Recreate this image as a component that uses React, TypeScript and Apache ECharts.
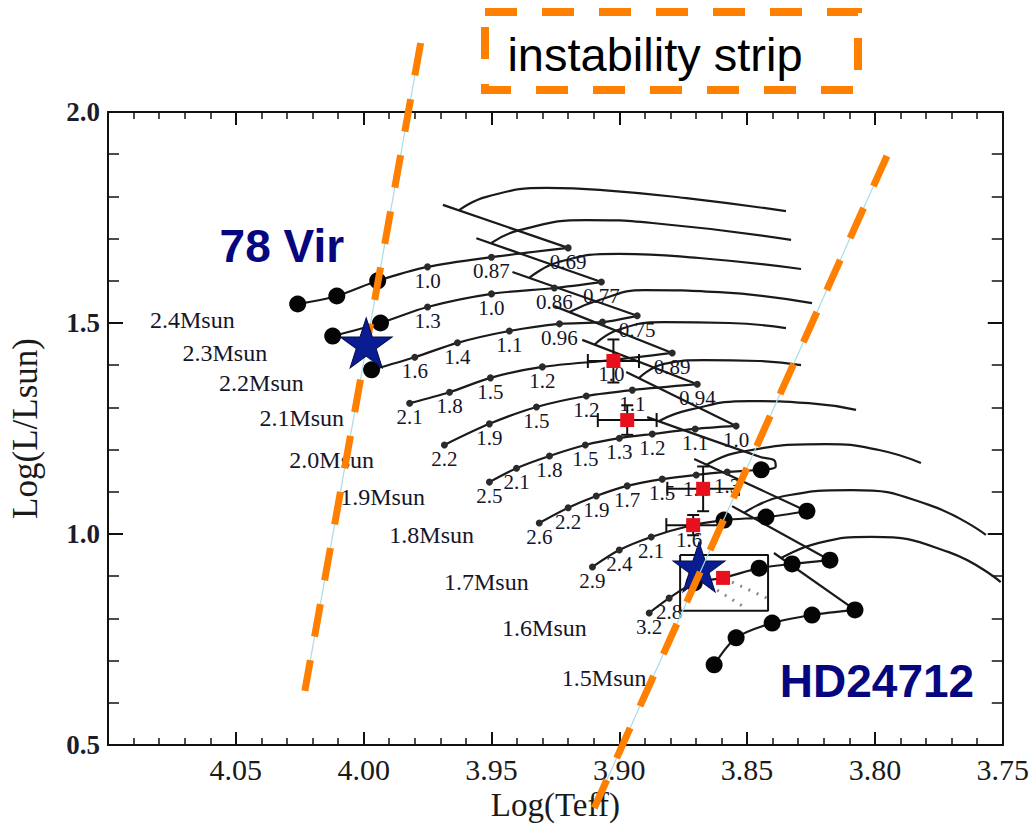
import React, { useEffect, useRef } from "react";
import * as echarts from "echarts";

// ---- Evolutionary tracks [logTeff, logL] ----
const ms24 = [[4.0258, 1.545], [4.0105, 1.564], [3.9945, 1.6], [3.975, 1.633], [3.95, 1.656], [3.92, 1.678]];
const dots24 = ["B", "B", "B", "S", "S", "S"];
const ages24 = ["", "", "", "1.0", "0.87", "0.69"];
const hook24 = [[3.92, 1.678], [3.969, 1.78]];
const arch24 = [[3.9625, 1.768], [3.952, 1.799], [3.9285, 1.82], [3.9066, 1.815], [3.8738, 1.796], [3.8348, 1.765]];

const ms23 = [[4.0121, 1.469], [3.9934, 1.5], [3.975, 1.538], [3.95, 1.569], [3.9254, 1.583], [3.907, 1.597]];
const dots23 = ["B", "B", "S", "S", "S", "S"];
const ages23 = ["", "", "1.3", "1.0", "0.86", "0.77"];
const hook23 = [[3.907, 1.597], [3.9559, 1.701]];
const arch23 = [[3.95, 1.69], [3.939, 1.72], [3.9129, 1.744], [3.8871, 1.737], [3.8328, 1.697]];

const ms22 = [[3.9969, 1.389], [3.98, 1.419], [3.9633, 1.453], [3.943, 1.481], [3.9234, 1.498], [3.9066, 1.502], [3.893, 1.517]];
const dots22 = ["B", "S", "S", "S", "S", "S", "S"];
const ages22 = ["", "1.6", "1.4", "1.1", "0.96", "", "0.75"];
const hook22 = [[3.893, 1.517], [3.9418, 1.621]];
const arch22 = [[3.9352, 1.607], [3.9234, 1.645], [3.9, 1.664], [3.8688, 1.654], [3.8289, 1.628]];

const ms21 = [[3.982, 1.31], [3.9664, 1.336], [3.9504, 1.37], [3.9301, 1.396], [3.9031, 1.412], [3.8793, 1.429]];
const dots21 = ["S", "S", "S", "S", "S", "S"];
const ages21 = ["2.1", "1.8", "1.5", "1.2", "1.0", "0.89"];
const hook21 = [[3.8793, 1.429], [3.9254, 1.54]];
const arch21 = [[3.9195, 1.526], [3.9078, 1.5545], [3.8902, 1.578], [3.8609, 1.573], [3.8246, 1.547]];

const ms20 = [[3.9684, 1.211], [3.9508, 1.261], [3.9324, 1.301], [3.9129, 1.327], [3.8949, 1.341], [3.8695, 1.355]];
const dots20 = ["S", "S", "S", "S", "S", "S"];
const ages20 = ["2.2", "1.9", "1.5", "1.2", "1.1", "0.94"];
const hook20 = [[3.8695, 1.355], [3.9145, 1.46]];
const arch20 = [[3.9098, 1.448], [3.9008, 1.483], [3.8824, 1.502], [3.857, 1.5], [3.8348, 1.488]];

const ms19 = [[3.9508, 1.123], [3.9402, 1.156], [3.9273, 1.185], [3.9133, 1.211], [3.9, 1.227], [3.8871, 1.237], [3.8703, 1.249], [3.8543, 1.256]];
const dots19 = ["S", "S", "S", "S", "S", "S", "S", "S"];
const ages19 = ["2.5", "2.1", "1.8", "1.5", "1.3", "1.2", "1.1", "1.0"];
const hook19 = [[3.8543, 1.256], [3.8973, 1.384]];
const arch19 = [[3.8922, 1.37], [3.8824, 1.403], [3.8668, 1.412], [3.8453, 1.41], [3.8289, 1.4]];

const ms18 = [[3.9313, 1.026], [3.92, 1.062], [3.909, 1.09], [3.8969, 1.114], [3.8832, 1.13], [3.8699, 1.14], [3.8578, 1.147], [3.8445, 1.152]];
const dots18 = ["S", "S", "S", "S", "S", "S", "S", "B"];
const ages18 = ["2.6", "2.2", "1.9", "1.7", "1.5", "1.4", "1.3", ""];
const hook18 = [[3.8445, 1.152], [3.8388, 1.16], [3.8393, 1.174], [3.8445, 1.182], [3.8891, 1.277]];
const arch18 = [[3.8844, 1.268], [3.8727, 1.294], [3.8492, 1.315], [3.8258, 1.31], [3.8074, 1.294]];

const ms17 = [[3.9105, 0.922], [3.9, 0.962], [3.8875, 0.993], [3.8727, 1.019], [3.859, 1.033], [3.8426, 1.04], [3.8266, 1.054]];
const dots17 = ["S", "S", "S", "S", "B", "B", "B"];
const ages17 = ["2.9", "2.4", "2.1", "1.6", "", "", ""];
const hook17 = [[3.8266, 1.054], [3.8707, 1.178]];
const arch17 = [[3.866, 1.1635], [3.8531, 1.194], [3.8191, 1.213], [3.7984, 1.199], [3.782, 1.168]];

const ms16 = [[3.8883, 0.813], [3.8805, 0.848], [3.8707, 0.884], [3.8594, 0.896], [3.8453, 0.919], [3.8324, 0.929], [3.8176, 0.938]];
const dots16 = ["S", "S", "B", "", "B", "B", "B"];
const ages16 = ["3.2", "2.8", "", "", "", "", ""];
const hook16 = [[3.8176, 0.938], [3.8559, 1.066]];
const arch16 = [[3.8512, 1.05], [3.8355, 1.09], [3.809, 1.104], [3.7789, 1.069], [3.7566, 0.998]];

const ms15 = [[3.8629, 0.69], [3.8543, 0.754], [3.8402, 0.789], [3.8246, 0.808], [3.8078, 0.82]];
const dots15 = ["B", "B", "B", "B", "B"];
const ages15 = ["", "", "", "", ""];
const hook15 = [[3.8078, 0.82], [3.8395, 0.955]];
const arch15 = [[3.8367, 0.943], [3.8219, 0.979], [3.8012, 0.993], [3.7711, 0.957], [3.7508, 0.886]];

// mass labels [logTeff, logL, text]
const massLabels = [
  [4.067, 1.507, "2.4Msun"],
  [4.0543, 1.429, "2.3Msun"],
  [4.04, 1.358, "2.2Msun"],
  [4.0242, 1.275, "2.1Msun"],
  [4.0125, 1.175, "2.0Msun"],
  [3.9926, 1.088, "1.9Msun"],
  [3.9734, 0.998, "1.8Msun"],
  [3.952, 0.886, "1.7Msun"],
  [3.9293, 0.777, "1.6Msun"],
  [3.9059, 0.659, "1.5Msun"],
];

// observations
const obsTeff = [3.9023, 3.8969, 3.8672, 3.8711, 3.8594];
const obsLum = [1.41, 1.27, 1.107, 1.021, 0.896];
const obsTeffErr = [0.01, 0.0115, 0.014, 0.0105, 0];
const obsLumErr = [0.051, 0.035, 0.053, 0.024, 0];

// stars
const starNames = ["78 Vir", "HD24712"];
const starTeff = [3.999, 3.8688];
const starLum = [1.453, 0.922];
const starNameTeff = [4.032, 3.7992];
const starNameLum = [1.6825, 0.6517];

// box and dotted lines
const boxTeff = [3.8762, 3.8418];
const boxLum = [0.818, 0.95];
const dottedA = [[3.8559, 0.886], [3.8422, 0.848]];
const dottedB = [[3.8617, 0.867], [3.8512, 0.827]];

// instability strip edges
const stripLeft = [[3.9777, 2.1635], [4.023, 0.628]];
const stripRight = [[3.7953, 1.8957], [3.9098, 0.3507]];

const tracks = [
  { ms: ms24, dots: dots24, ages: ages24, hook: hook24, arch: arch24 },
  { ms: ms23, dots: dots23, ages: ages23, hook: hook23, arch: arch23 },
  { ms: ms22, dots: dots22, ages: ages22, hook: hook22, arch: arch22 },
  { ms: ms21, dots: dots21, ages: ages21, hook: hook21, arch: arch21 },
  { ms: ms20, dots: dots20, ages: ages20, hook: hook20, arch: arch20 },
  { ms: ms19, dots: dots19, ages: ages19, hook: hook19, arch: arch19 },
  { ms: ms18, dots: dots18, ages: ages18, hook: hook18, arch: arch18 },
  { ms: ms17, dots: dots17, ages: ages17, hook: hook17, arch: arch17 },
  { ms: ms16, dots: dots16, ages: ages16, hook: hook16, arch: arch16 },
  { ms: ms15, dots: dots15, ages: ages15, hook: hook15, arch: arch15 },
];

const SERIF = "Liberation Serif, Times New Roman, serif";
const SANS = "Liberation Sans, Arial, sans-serif";
const STAR = "path://M50,0 L61.23,34.55 L97.55,34.55 L68.17,55.9 L79.39,90.45 L50,69.1 L20.61,90.45 L31.83,55.9 L2.45,34.55 L38.77,34.55 Z";
const ORANGE = "#ff7f00";
const TXT = "#15152a";

function lineSeries(data: number[][], smooth: number, extra: any = {}) {
  return {
    type: "line",
    data,
    smooth,
    symbol: "none",
    showSymbol: false,
    clip: false,
    silent: true,
    lineStyle: { color: "#1a1a1a", width: 2.2, opacity: 1 },
    z: 2,
    ...extra,
  };
}

function buildOption() {
  const series: any[] = [];
  const bigDots: number[][] = [];
  const smallDots: any[] = [];
  tracks.forEach((t) => {
    series.push(lineSeries(t.ms, 0.3));
    series.push(lineSeries(t.hook, 0.4));
    series.push(lineSeries(t.arch, 0.5));
    t.ms.forEach((p, i) => {
      if (t.dots[i] === "B") bigDots.push(p);
      if (t.dots[i] === "S")
        smallDots.push({
          value: p,
          label: { show: t.ages[i] !== "", formatter: t.ages[i] },
        });
    });
  });

  series.push({
    type: "scatter",
    data: bigDots,
    symbol: "circle",
    symbolSize: 17,
    itemStyle: { color: "#050505", opacity: 1 },
    silent: true,
    z: 3,
  });
  series.push({
    type: "scatter",
    data: smallDots,
    symbol: "circle",
    symbolSize: 7,
    itemStyle: { color: "#2a2a2a", opacity: 1 },
    label: {
      position: "bottom",
      distance: 0,
      fontFamily: SERIF,
      fontSize: 21,
      color: TXT,
      opacity: 1,
    },
    silent: true,
    z: 3,
  });

  // mass labels
  series.push({
    type: "scatter",
    data: massLabels.map((m) => ({ value: [m[0], m[1]], label: { formatter: m[2] } })),
    symbolSize: 1,
    itemStyle: { color: "rgba(0,0,0,0)", opacity: 1 },
    label: { show: true, position: "inside", fontFamily: SERIF, fontSize: 24, color: TXT, opacity: 1 },
    silent: true,
    z: 3,
  });

  // box
  const [b0, b1] = boxTeff;
  const [l0, l1] = boxLum;
  series.push(
    lineSeries(
      [[b0, l1], [b1, l1], [b1, l0], [b0, l0], [b0, l1]],
      0,
      { lineStyle: { color: "#111", width: 2 }, z: 4 }
    )
  );
  series.push(lineSeries(dottedA, 0, { lineStyle: { color: "#8a8a8a", width: 3, type: [2, 7] }, z: 4 }));
  series.push(lineSeries(dottedB, 0, { lineStyle: { color: "#8a8a8a", width: 3, type: [2, 7] }, z: 4 }));

  // error bars
  const errData = obsTeff
    .map((t, i) => [t, obsLum[i], obsTeffErr[i], obsLumErr[i]])
    .filter((d) => d[2] > 0 || d[3] > 0);
  series.push({
    type: "custom",
    data: errData,
    encode: { x: 0, y: 1 },
    clip: false,
    silent: true,
    z: 5,
    renderItem: (params: any, api: any) => {
      const x = api.value(0);
      const y = api.value(1);
      const ex = api.value(2);
      const ey = api.value(3);
      const L = api.coord([x + ex, y]);
      const R = api.coord([x - ex, y]);
      const T = api.coord([x, y + ey]);
      const B = api.coord([x, y - ey]);
      const st = { stroke: "#111", lineWidth: 2 };
      const cx = 7;
      const cy = 6;
      return {
        type: "group",
        children: [
          { type: "line", shape: { x1: L[0], y1: L[1], x2: R[0], y2: R[1] }, style: st },
          { type: "line", shape: { x1: T[0], y1: T[1], x2: B[0], y2: B[1] }, style: st },
          { type: "line", shape: { x1: L[0], y1: L[1] - cx, x2: L[0], y2: L[1] + cx }, style: st },
          { type: "line", shape: { x1: R[0], y1: R[1] - cx, x2: R[0], y2: R[1] + cx }, style: st },
          { type: "line", shape: { x1: T[0] - cy, y1: T[1], x2: T[0] + cy, y2: T[1] }, style: st },
          { type: "line", shape: { x1: B[0] - cy, y1: B[1], x2: B[0] + cy, y2: B[1] }, style: st },
        ],
      };
    },
  });
  series.push({
    type: "scatter",
    data: obsTeff.map((t, i) => [t, obsLum[i]]),
    symbol: "rect",
    symbolSize: 14,
    itemStyle: { color: "#e8101c", opacity: 1 },
    silent: true,
    z: 5,
  });

  // HD24712 star (below strip line)
  series.push({
    type: "scatter",
    data: [[starTeff[1], starLum[1]]],
    symbol: STAR,
    symbolSize: [52, 50],
    itemStyle: { color: "#0a1c92", borderColor: "#050d4a", borderWidth: 1, opacity: 1 },
    silent: true,
    z: 6,
  });

  // instability strip lines
  [stripLeft, stripRight].forEach((s) => {
    series.push(lineSeries(s, 0, { lineStyle: { color: "#a9dce3", width: 1.2 }, z: 6.5 }));
    series.push(
      lineSeries(s, 0, { lineStyle: { color: ORANGE, width: 7, type: [33, 24], cap: "butt" }, z: 7 })
    );
  });

  // 78 Vir star (above strip line)
  series.push({
    type: "scatter",
    data: [[starTeff[0], starLum[0]]],
    symbol: STAR,
    symbolSize: [52, 50],
    itemStyle: { color: "#0a1c92", borderColor: "#050d4a", borderWidth: 1, opacity: 1 },
    silent: true,
    z: 8,
  });

  // star names
  series.push({
    type: "scatter",
    data: starNames.map((n, i) => ({ value: [starNameTeff[i], starNameLum[i]], label: { formatter: n } })),
    symbolSize: 1,
    itemStyle: { color: "rgba(0,0,0,0)", opacity: 1 },
    label: {
      show: true,
      position: "inside",
      fontFamily: SANS,
      fontWeight: "bold",
      fontSize: 46,
      color: "#06067f",
      opacity: 1,
    },
    silent: true,
    z: 9,
  });

  const axisCommon = {
    type: "value",
    axisLine: { show: true, onZero: false, lineStyle: { color: "#111", width: 2 } },
    splitLine: { show: false },
    minorSplitLine: { show: false },
  };

  return {
    animation: false,
    backgroundColor: "#ffffff",
    textStyle: { fontFamily: SERIF },
    grid: { left: 108, right: 28, top: 112, bottom: 85 },
    xAxis: [
      {
        ...axisCommon,
        min: 3.75,
        max: 4.1,
        interval: 0.05,
        inverse: true,
        position: "bottom",
        axisTick: { show: true, inside: true, length: 13, lineStyle: { color: "#111", width: 2 } },
        minorTick: { show: true, splitNumber: 5, length: 7, lineStyle: { color: "#111", width: 1.5 } },
        axisLabel: {
          show: true,
          showMinLabel: true,
          showMaxLabel: true,
          margin: 9,
          fontFamily: SERIF,
          fontSize: 30,
          color: "#1a1a1a",
          formatter: (v: number) => (v > 4.09 ? "" : v.toFixed(2)),
        },
        name: "Log(Teff)",
        nameLocation: "middle",
        nameGap: 43,
        nameTextStyle: { fontFamily: SERIF, fontSize: 33, color: "#1a1a1a" },
      },
      {
        ...axisCommon,
        min: 3.75,
        max: 4.1,
        interval: 0.05,
        inverse: true,
        position: "top",
        axisTick: { show: true, inside: true, length: 13, lineStyle: { color: "#111", width: 2 } },
        minorTick: { show: true, splitNumber: 5, length: 7, lineStyle: { color: "#111", width: 1.5 } },
        axisLabel: { show: false },
      },
    ],
    yAxis: [
      {
        ...axisCommon,
        min: 0.5,
        max: 2.0,
        interval: 0.5,
        position: "left",
        axisTick: { show: true, inside: true, length: 15, lineStyle: { color: "#111", width: 2 } },
        minorTick: { show: true, splitNumber: 5, length: 11, lineStyle: { color: "#111", width: 1.5 } },
        axisLabel: {
          show: true,
          margin: 8,
          fontFamily: SERIF,
          fontWeight: "bold",
          fontSize: 27,
          color: "#1c1c2c",
          formatter: (v: number) => v.toFixed(1),
        },
        name: "Log(L/Lsun)",
        nameLocation: "middle",
        nameGap: 65,
        nameTextStyle: { fontFamily: SERIF, fontSize: 35, color: "#1a1a1a" },
      },
      {
        ...axisCommon,
        min: 0.5,
        max: 2.0,
        interval: 0.5,
        position: "right",
        axisTick: { show: true, inside: true, length: 15, lineStyle: { color: "#111", width: 2 } },
        minorTick: { show: true, splitNumber: 5, length: 11, lineStyle: { color: "#111", width: 1.5 } },
        axisLabel: { show: false },
      },
    ],
    graphic: [
      {
        type: "rect",
        shape: { x: 485, y: 12, width: 373, height: 78 },
        style: { fill: "none", stroke: ORANGE, lineWidth: 8, lineDash: [32, 25] },
        z: 10,
      },
      {
        type: "text",
        x: 655,
        y: 54,
        style: {
          text: "instability strip",
          fontSize: 47,
          fontFamily: SANS,
          fill: "#000",
          align: "center",
          verticalAlign: "middle",
        },
        z: 10,
      },
    ],
    series,
  };
}

export default function App() {
  const ref = useRef<HTMLDivElement>(null);
  useEffect(() => {
    if (!ref.current) return;
    const chart = echarts.init(ref.current, null, { renderer: "svg" });
    chart.setOption(buildOption() as any);
    return () => chart.dispose();
  }, []);
  return (
    <div
      ref={ref}
      style={{ position: "absolute", left: 0, top: 0, width: 1032, height: 830, background: "#fff" }}
    />
  );
}
